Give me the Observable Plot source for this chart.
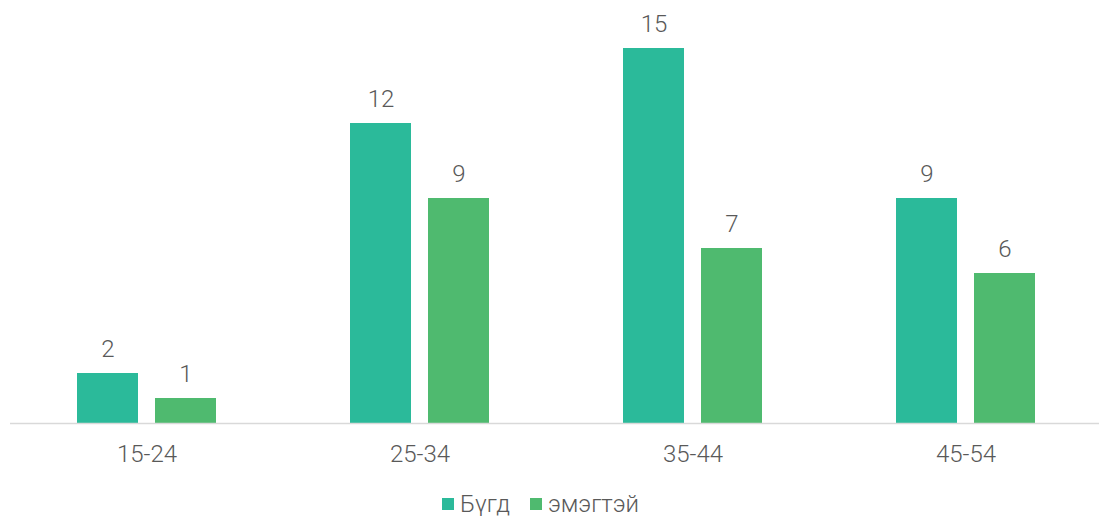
<!DOCTYPE html>
<html>
<head>
<meta charset="utf-8">
<script src="https://cdn.jsdelivr.net/npm/d3@7"></script>
<script src="https://cdn.jsdelivr.net/npm/@observablehq/plot@0.6"></script>
<style>
  body { margin: 0; background: #fff; font-family: Roboto, sans-serif; overflow: hidden; }
  #chart { width: 1099px; }
  .legend { display: flex; justify-content: center; align-items: center; gap: 20px; font-family: Roboto, sans-serif; font-weight: 300; font-size: 24px; color: #595959; margin-top: 20px; position: relative; left: -9px; }
  .legend span.sw { display: inline-block; width: 12px; height: 12px; margin-right: 6px; }
  .legend .item { display: flex; align-items: center; }
</style>
</head>
<body>
<div id="chart"></div>
<script>
const ageGroups = ["15-24", "25-34", "35-44", "45-54"];
const seriesNames = ["Бүгд", "эмэгтэй"];
const totalValues = [2, 12, 15, 9];
const femaleValues = [1, 9, 7, 6];
const colors = ["#2BBA9A", "#4FBA6F"];

const data = [];
ageGroups.forEach((g, i) => {
  data.push({group: g, series: seriesNames[0], value: totalValues[i]});
  data.push({group: g, series: seriesNames[1], value: femaleValues[i]});
});

const plot = Plot.plot({
  width: 1099,
  height: 470,
  marginLeft: 10,
  marginRight: -3,
  marginTop: 48,
  marginBottom: 47,
  style: {fontFamily: "Roboto, sans-serif", fontWeight: 300, color: "#595959", overflow: "visible"},
  fx: {domain: ageGroups, padding: 0, label: null},
  x: {domain: seriesNames, axis: null, paddingInner: 0.218, paddingOuter: 0.859},
  y: {domain: [0, 15], axis: null},
  color: {domain: seriesNames, range: colors},
  marks: [
    Plot.barY(data, {fx: "group", x: "series", y: "value", fill: "series"}),
    Plot.ruleY([0], {stroke: "#d9d9d9", strokeWidth: 1.5}),
    Plot.text(data, {fx: "group", x: "series", y: "value", text: d => String(d.value), lineAnchor: "bottom", dy: -17, fontSize: 24, fill: "#595959"}),
    Plot.axisFx({anchor: "bottom", tickSize: 0, tickPadding: 21, fontSize: 24, label: null})
  ]
});
document.getElementById("chart").appendChild(plot);

const legend = document.createElement("div");
legend.className = "legend";
seriesNames.forEach((s, i) => {
  const item = document.createElement("div");
  item.className = "item";
  const sw = document.createElement("span");
  sw.className = "sw";
  sw.style.background = colors[i];
  item.appendChild(sw);
  item.appendChild(document.createTextNode(s));
  legend.appendChild(item);
});
document.getElementById("chart").appendChild(legend);
</script>
</body>
</html>
